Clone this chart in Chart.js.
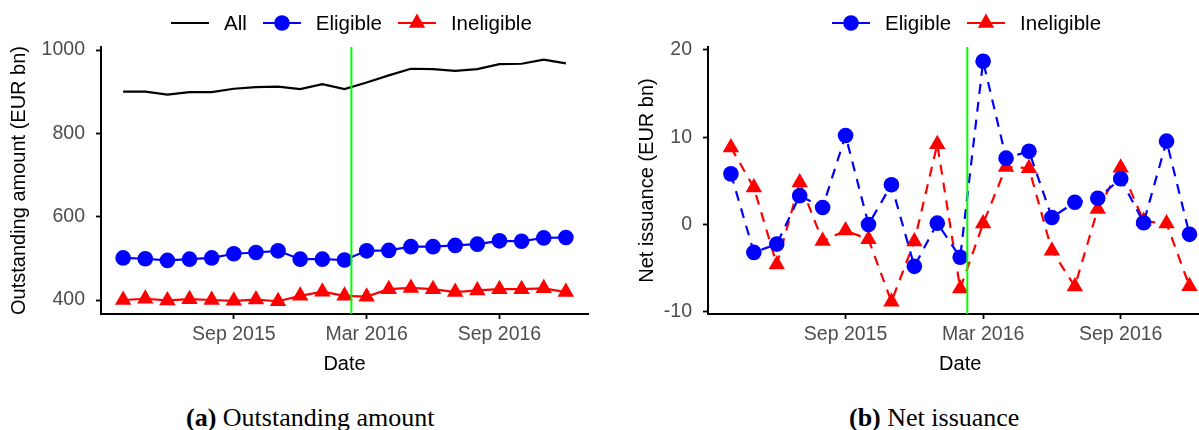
<!DOCTYPE html>
<html>
<head>
<meta charset="utf-8">
<script src="https://cdn.jsdelivr.net/npm/chart.js@4.4.1/dist/chart.umd.min.js"></script>
<style>
  html, body { margin: 0; padding: 0; background: #fff; }
  body { position: relative; width: 1199px; height: 430px; overflow: hidden; font-family: "Liberation Sans", Arial, sans-serif; }
  #outstanding { position: absolute; left: 0; top: 0; }
  #issuance { position: absolute; left: 600px; top: 0; }
  .legend { position: absolute; top: 11px; height: 24px; display: flex; align-items: center; font-size: 20.5px; color: #000; }
  .legend .item { display: flex; align-items: center; margin-right: 16px; }
  .legend svg { margin-right: 15px; }
  .caption { position: absolute; top: 403px; font-family: "Liberation Serif", "Times New Roman", serif; font-size: 26px; line-height: 30px; white-space: nowrap; color: #000; }
</style>
</head>
<body>
<canvas id="outstanding" width="600" height="380"></canvas>
<canvas id="issuance" width="625" height="380"></canvas>

<div class="legend" style="left:171px">
  <div class="item"><svg width="38" height="24"><line x1="0" y1="12" x2="38" y2="12" stroke="#000" stroke-width="2.2"/></svg>All</div>
  <div class="item"><svg width="38" height="24"><line x1="0" y1="12" x2="38" y2="12" stroke="#0000ff" stroke-width="2.2"/><circle cx="19" cy="12" r="7.8" fill="#0000ff"/></svg>Eligible</div>
  <div class="item"><svg width="38" height="24"><line x1="0" y1="12" x2="38" y2="12" stroke="#ff0000" stroke-width="2.2"/><polygon points="19,2.5 27.2,16.75 10.8,16.75" fill="#ff0000"/></svg>Ineligible</div>
</div>
<div class="legend" style="left:832px">
  <div class="item"><svg width="38" height="24"><line x1="0" y1="12" x2="38" y2="12" stroke="#0000ff" stroke-width="2.2"/><circle cx="19" cy="12" r="7.8" fill="#0000ff"/></svg>Eligible</div>
  <div class="item"><svg width="38" height="24"><line x1="0" y1="12" x2="38" y2="12" stroke="#ff0000" stroke-width="2.2"/><polygon points="19,2.5 27.2,16.75 10.8,16.75" fill="#ff0000"/></svg>Ineligible</div>
</div>

<div class="caption" style="left:186px"><b>(a)</b> Outstanding amount</div>
<div class="caption" style="left:849px"><b>(b)</b> Net issuance</div>

<script>
// monthly observations
const months = ['2015-04', '2015-05', '2015-06', '2015-07', '2015-08', '2015-09', '2015-10', '2015-11', '2015-12',
  '2016-01', '2016-02', '2016-03', '2016-04', '2016-05', '2016-06', '2016-07', '2016-08', '2016-09', '2016-10',
  '2016-11', '2016-12'];

// outstanding amount, EUR bn
const outAll = [900, 900, 893, 899, 899, 907, 911, 912, 906, 918, 906, 922, 939, 955, 954, 950, 954, 966, 967, 977, 968];
const outEligible = [501, 499, 495, 498, 501, 511, 514, 518, 498, 498, 496, 518, 519, 528, 528, 531, 534, 542, 541, 549, 550];
const outIneligible = [400, 403, 399, 402, 400, 398, 401, 397, 410, 420, 410, 408, 426, 429, 426, 419, 423, 426, 426, 428, 419];

// net issuance, EUR bn
const netEligible = [5.8, -3.2, -2.25, 3.3, 1.95, 10.2, 0.0, 4.55, -4.8, 0.15, -3.75, 18.7, 7.6, 8.4, 0.8, 2.55, 3.0, 5.25, 0.2, 9.55, -1.13];
const netIneligible = [8.83, 4.23, -4.6, 4.8, -1.9, -0.7, -1.7, -8.85, -1.95, 9.2, -7.35, 0.1, 6.6, 6.45, -3.0, -7.1, 1.77, 6.5, 0.4, 0.1, -7.07];

// axis ticks
const tickDates = ['2015-09', '2016-03', '2016-09'];
const tickLabels = ['Sep 2015', 'Mar 2016', 'Sep 2016'];
const outTicks = [400, 600, 800, 1000];
const netTicks = [-10, 0, 10, 20];

// vertical marker
const eventDate = '2016-02-10';

Chart.defaults.font.family = '"Liberation Sans", Arial, sans-serif';

// months since first observation (fraction for days)
const start = months[0].split('-').map(Number);
function monthIndex(d) {
  const [y, m, day] = d.split('-').map(Number);
  let idx = (y - start[0]) * 12 + (m - start[1]);
  if (day) idx += (day - 1) / new Date(y, m, 0).getDate();
  return idx;
}
const xs = months.map(monthIndex);
const toPoints = vals => vals.map((v, i) => ({ x: xs[i], y: v }));

const eventLine = {
  id: 'eventLine',
  afterDatasetsDraw(chart) {
    const { ctx, chartArea, scales } = chart;
    const x = scales.x.getPixelForValue(monthIndex(eventDate));
    ctx.save();
    ctx.strokeStyle = '#00ff00';
    ctx.lineWidth = 2;
    ctx.beginPath();
    ctx.moveTo(x, chartArea.top);
    ctx.lineTo(x, chartArea.bottom);
    ctx.stroke();
    ctx.restore();
  }
};

function makeOptions(o) {
  return {
    responsive: false,
    animation: false,
    layout: { padding: { top: 47, right: o.padRight, bottom: 0, left: 0 } },
    plugins: { legend: { display: false }, tooltip: { enabled: false } },
    scales: {
      x: {
        type: 'linear',
        min: -1,
        max: 21,
        afterFit: s => { s.height = 66; },
        afterBuildTicks: s => { s.ticks = tickDates.map(d => ({ value: monthIndex(d) })); },
        ticks: {
          callback: (v, i) => tickLabels[i],
          color: '#4d4d4d', font: { size: 19.5 }, padding: 4, maxRotation: 0, autoSkip: false
        },
        grid: { drawOnChartArea: false, tickLength: 5, tickColor: '#000', tickWidth: 1.8 },
        border: { color: '#000', width: 2 },
        title: { display: true, text: 'Date', color: '#000', font: { size: 20 }, padding: { top: 0, bottom: 4 } }
      },
      y: {
        min: o.yMin,
        max: o.yMax,
        afterFit: s => { s.width = o.yWidth; },
        afterBuildTicks: s => { s.ticks = o.yTicks.map(v => ({ value: v })); },
        ticks: { callback: v => String(v), color: '#4d4d4d', font: { size: 19.5 }, padding: 11 },
        grid: { drawOnChartArea: false, tickLength: 5, tickColor: '#000', tickWidth: 1.8 },
        border: { color: '#000', width: 2 },
        title: { display: true, text: o.yTitle, color: '#000', font: { size: 20 }, padding: { top: o.titlePad, bottom: 0 } }
      }
    }
  };
}

// (a) outstanding amount
new Chart(document.getElementById('outstanding'), {
  type: 'line',
  data: {
    datasets: [
      { label: 'All', data: toPoints(outAll), borderColor: '#000', borderWidth: 2.2, pointRadius: 0, tension: 0 },
      { label: 'Eligible', data: toPoints(outEligible), borderColor: '#0000ff', backgroundColor: '#0000ff',
        borderWidth: 2.2, pointStyle: 'circle', pointRadius: 7.8, pointBorderWidth: 0, tension: 0 },
      { label: 'Ineligible', data: toPoints(outIneligible), borderColor: '#ff0000', backgroundColor: '#ff0000',
        borderWidth: 2.2, pointStyle: 'triangle', pointRadius: 9.5, pointBorderWidth: 0, tension: 0 }
    ]
  },
  options: makeOptions({ padRight: 12, yMin: 366.4, yMax: 1007.2, yTicks: outTicks, yWidth: 101,
    yTitle: 'Outstanding amount (EUR bn)', titlePad: 7 }),
  plugins: [eventLine]
});

// (b) net issuance
new Chart(document.getElementById('issuance'), {
  type: 'line',
  data: {
    datasets: [
      { label: 'Eligible', data: toPoints(netEligible), borderColor: '#0000ff', backgroundColor: '#0000ff',
        borderWidth: 2.2, borderDash: [10, 8], pointStyle: 'circle', pointRadius: 7.8, pointBorderWidth: 0, tension: 0 },
      { label: 'Ineligible', data: toPoints(netIneligible), borderColor: '#ff0000', backgroundColor: '#ff0000',
        borderWidth: 2.2, borderDash: [10, 8], pointStyle: 'triangle', pointRadius: 9.5, pointBorderWidth: 0, tension: 0 }
    ]
  },
  options: makeOptions({ padRight: 12.6, yMin: -10.26, yMax: 20.34, yTicks: netTicks, yWidth: 108,
    yTitle: 'Net issuance (EUR bn)', titlePad: 35 }),
  plugins: [eventLine]
});
</script>
</body>
</html>
